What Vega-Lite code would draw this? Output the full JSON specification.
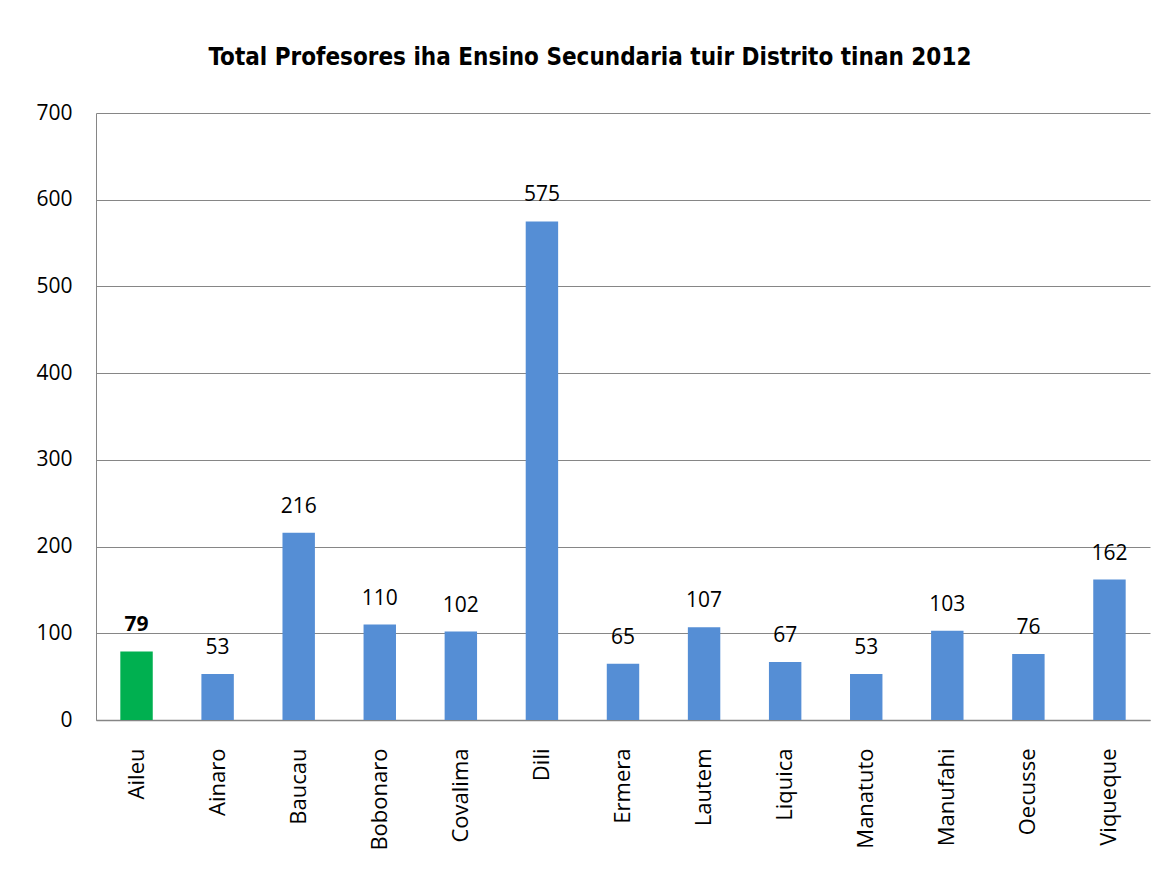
{
  "$schema": "https://vega.github.io/schema/vega-lite/v6.json",
  "autosize": {"type": "none"},
  "width": 1054,
  "height": 607,
  "padding": {"left": 96, "top": 113, "right": 14, "bottom": 170},
  "background": "white",
  "title": {
    "text": "Total Profesores iha Ensino Secundaria tuir Distrito tinan 2012",
    "font": "DejaVu Sans Condensed",
    "fontSize": 24,
    "fontWeight": "bold",
    "color": "#000000",
    "anchor": "middle",
    "offset": 32,
    "dx": -33
  },
  "config": {
    "view": {"stroke": null},
    "font": "Open Sans"
  },
  "data": {
    "values": [
      {"Distrito": "Aileu", "Total": 79, "highlight": "yes"},
      {"Distrito": "Ainaro", "Total": 53, "highlight": "no"},
      {"Distrito": "Baucau", "Total": 216, "highlight": "no"},
      {"Distrito": "Bobonaro", "Total": 110, "highlight": "no"},
      {"Distrito": "Covalima", "Total": 102, "highlight": "no"},
      {"Distrito": "Dili", "Total": 575, "highlight": "no"},
      {"Distrito": "Ermera", "Total": 65, "highlight": "no"},
      {"Distrito": "Lautem", "Total": 107, "highlight": "no"},
      {"Distrito": "Liquica", "Total": 67, "highlight": "no"},
      {"Distrito": "Manatuto", "Total": 53, "highlight": "no"},
      {"Distrito": "Manufahi", "Total": 103, "highlight": "no"},
      {"Distrito": "Oecusse", "Total": 76, "highlight": "no"},
      {"Distrito": "Viqueque", "Total": 162, "highlight": "no"}
    ]
  },
  "encoding": {
    "x": {
      "field": "Distrito",
      "type": "nominal",
      "sort": null,
      "scale": {"paddingInner": 0.6, "paddingOuter": 0.3},
      "axis": {
        "title": null,
        "labelAngle": -90,
        "labelFontSize": 22,
        "labelColor": "#000000",
        "labelPadding": 28,
        "ticks": false,
        "domainColor": "#868686",
        "domainWidth": 1.5
      }
    },
    "y": {
      "field": "Total",
      "type": "quantitative",
      "scale": {"domain": [0, 700]},
      "axis": {
        "title": null,
        "values": [0, 100, 200, 300, 400, 500, 600, 700],
        "labelFontSize": 21,
        "labelColor": "#000000",
        "labelPadding": 24,
        "ticks": false,
        "domain": true,
        "domainColor": "#868686",
        "gridColor": "#868686",
        "gridWidth": 1
      }
    }
  },
  "layer": [
    {
      "mark": {"type": "bar"},
      "encoding": {
        "color": {
          "field": "highlight",
          "type": "nominal",
          "scale": {"domain": ["yes", "no"], "range": ["#00B050", "#558ED5"]},
          "legend": null
        }
      }
    },
    {
      "transform": [{"filter": "datum.highlight == 'no'"}],
      "mark": {"type": "text", "baseline": "bottom", "dy": -16, "fontSize": 21, "color": "#000000"},
      "encoding": {
        "text": {"field": "Total", "type": "quantitative"}
      }
    },
    {
      "transform": [{"filter": "datum.highlight == 'yes'"}],
      "mark": {"type": "text", "baseline": "bottom", "dy": -16, "fontSize": 21, "fontWeight": "bold", "color": "#000000"},
      "encoding": {
        "text": {"field": "Total", "type": "quantitative"}
      }
    }
  ]
}
